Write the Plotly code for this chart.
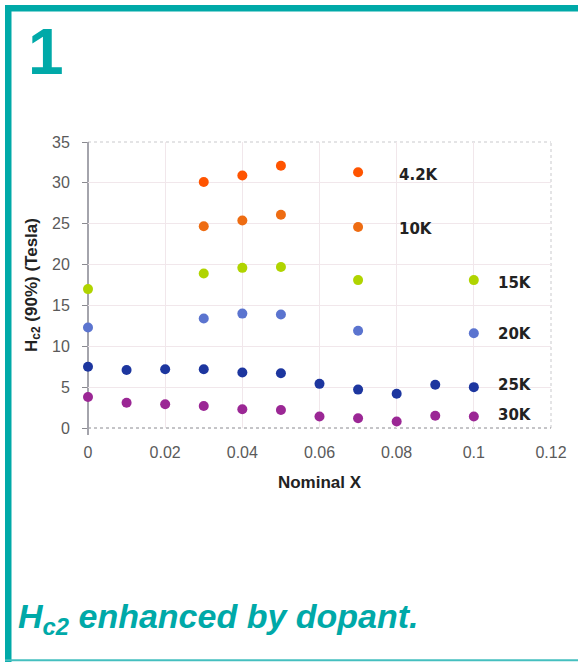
import plotly.graph_objects as go

# Upper critical field Hc2 (90%) versus nominal dopant level X, per temperature
series_names = ["4.2K", "10K", "15K", "20K", "25K", "30K"]

x_42K = [0.03, 0.04, 0.05, 0.07]
y_42K = [30.1, 30.9, 32.1, 31.3]

x_10K = [0.03, 0.04, 0.05, 0.07]
y_10K = [24.7, 25.4, 26.1, 24.6]

x_15K = [0.0, 0.03, 0.04, 0.05, 0.07, 0.10]
y_15K = [17.0, 18.9, 19.6, 19.7, 18.1, 18.1]

x_20K = [0.0, 0.03, 0.04, 0.05, 0.07, 0.10]
y_20K = [12.3, 13.4, 14.0, 13.9, 11.9, 11.6]

x_25K = [0.0, 0.01, 0.02, 0.03, 0.04, 0.05, 0.06, 0.07, 0.08, 0.09, 0.10]
y_25K = [7.5, 7.1, 7.2, 7.2, 6.8, 6.7, 5.4, 4.7, 4.2, 5.3, 5.0]

x_30K = [0.0, 0.01, 0.02, 0.03, 0.04, 0.05, 0.06, 0.07, 0.08, 0.09, 0.10]
y_30K = [3.8, 3.1, 2.9, 2.7, 2.3, 2.2, 1.4, 1.2, 0.8, 1.5, 1.4]

x_ticks = [0, 0.02, 0.04, 0.06, 0.08, 0.1, 0.12]
x_tick_text = ["0", "0.02", "0.04", "0.06", "0.08", "0.1", "0.12"]
y_ticks = [0, 5, 10, 15, 20, 25, 30, 35]

xs = [x_42K, x_10K, x_15K, x_20K, x_25K, x_30K]
ys = [y_42K, y_10K, y_15K, y_20K, y_25K, y_30K]
colors = ["#ff5400", "#ee6c12", "#b0d400", "#5b74cf", "#1d369f", "#9b2795"]

TEAL = "#00a9a8"
W, H = 578, 662
ML, MR, MT, MB = 88, 27, 142, 234
PW, PH = W - ML - MR, H - MT - MB


def px(x):
    return (x - ML) / PW


def py(y):
    return (H - MB - y) / PH


fig = go.Figure()
for name, xv, yv, c in zip(series_names, xs, ys, colors):
    fig.add_trace(go.Scatter(
        x=xv, y=yv, mode="markers", name=name,
        marker=dict(size=10, color=c, line=dict(width=0)),
        cliponaxis=False,
    ))

# temperature labels beside each series
label_pos = {"4.2K": (0.0800, 31.0), "10K": (0.0800, 24.4), "15K": (0.1058, 17.75),
             "20K": (0.1058, 11.5), "25K": (0.1058, 5.3), "30K": (0.1058, 1.6)}
annotations = []
for name in series_names:
    lx, ly = label_pos[name]
    annotations.append(dict(
        x=lx, y=ly, xref="x", yref="y", text="<b>%s</b>" % name, showarrow=False,
        xanchor="left", yanchor="middle",
        font=dict(family="DejaVu Sans", size=15, color="#222222"),
    ))

annotations.append(dict(
    x=px(26), y=py(52), xref="paper", yref="paper", text="<b>1</b>", showarrow=False,
    xanchor="left", yanchor="middle",
    font=dict(family="Liberation Sans", size=64, color=TEAL),
))
annotations.append(dict(
    x=px(16), y=py(618), xref="paper", yref="paper",
    text="<b><i>H<sub>c2</sub> enhanced by dopant.</i></b>", showarrow=False,
    xanchor="left", yanchor="middle",
    font=dict(family="Liberation Sans", size=34, color=TEAL),
))

shapes = [
    # teal frame
    dict(type="rect", xref="paper", yref="paper", x0=px(5), x1=px(W + 5), y0=py(5), y1=py(11.5),
         fillcolor=TEAL, line=dict(width=0), layer="above"),
    dict(type="rect", xref="paper", yref="paper", x0=px(5), x1=px(11.5), y0=py(5), y1=py(H),
         fillcolor=TEAL, line=dict(width=0), layer="above"),
    dict(type="line", xref="paper", yref="paper", x0=px(5), x1=px(W + 5), y0=py(660.3), y1=py(660.3),
         line=dict(color="#45bfbf", width=2), layer="above"),
    # dotted plot border (top, right, bottom)
    dict(type="line", xref="paper", yref="paper", x0=0, x1=1, y0=1, y1=1,
         line=dict(color="#c9c9cc", width=1, dash="dot"), layer="below"),
    dict(type="line", xref="paper", yref="paper", x0=1, x1=1, y0=0, y1=1,
         line=dict(color="#c9c9cc", width=1, dash="dot"), layer="below"),
    dict(type="line", xref="paper", yref="paper", x0=0, x1=1, y0=0, y1=0,
         line=dict(color="#8a8a90", width=1, dash="dot"), layer="below"),
    # solid left axis line, running slightly below zero
    dict(type="line", xref="paper", yref="paper", x0=0, x1=0, y0=py(435), y1=1,
         line=dict(color="#a4a4ac", width=2), layer="below"),
]

fig.update_layout(
    width=W, height=H,
    margin=dict(l=ML, r=MR, t=MT, b=MB),
    paper_bgcolor="white", plot_bgcolor="white",
    showlegend=False,
    annotations=annotations,
    shapes=shapes,
    xaxis=dict(
        range=[0, 0.12], tickvals=x_ticks, ticktext=x_tick_text,
        showgrid=True, gridcolor="#f1e7eb", gridwidth=1,
        zeroline=False, showline=False,
        ticks="", ticklabelstandoff=13,
        tickfont=dict(family="Liberation Sans", size=16, color="#5a5a5a"),
        title=dict(text="<b>Nominal X</b>", standoff=16,
                   font=dict(family="Liberation Sans", size=17, color="#222222")),
    ),
    yaxis=dict(
        range=[0, 35], tickvals=y_ticks,
        showgrid=True, gridcolor="#f1e7eb", gridwidth=1,
        zeroline=False, showline=False,
        ticks="outside", ticklen=5, tickcolor="#8a8a90", ticklabelstandoff=9,
        tickfont=dict(family="Liberation Sans", size=16, color="#5a5a5a"),
        title=dict(text="<b>H<sub>c2</sub> (90%) (Tesla)</b>", standoff=10,
                   font=dict(family="Liberation Sans", size=17, color="#222222")),
    ),
)

fig.write_html("out.html")
